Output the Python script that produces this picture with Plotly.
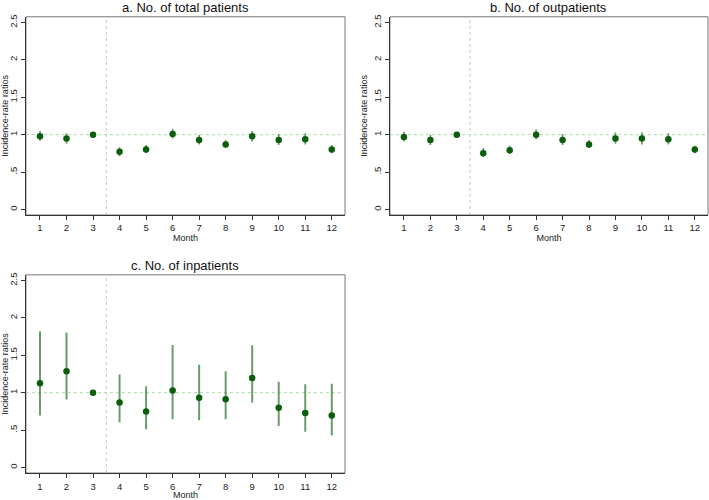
import plotly.graph_objects as go

months = [1, 2, 3, 4, 5, 6, 7, 8, 9, 10, 11, 12]
tick_labels_y = ["0", ".5", "1", "1.5", "2", "2.5"]
tick_vals_y = [0, 0.5, 1, 1.5, 2, 2.5]

titles = ["a. No. of total patients", "b. No. of outpatients", "c. No. of inpatients"]

irr_total = [0.98, 0.95, 1.00, 0.77, 0.80, 1.01, 0.93, 0.87, 0.98, 0.93, 0.94, 0.80]
lo_total = [0.92, 0.88, 1.00, 0.71, 0.75, 0.95, 0.87, 0.82, 0.91, 0.86, 0.87, 0.75]
hi_total = [1.05, 1.02, 1.00, 0.83, 0.86, 1.08, 1.00, 0.93, 1.05, 1.01, 1.02, 0.86]

irr_out = [0.97, 0.93, 1.00, 0.75, 0.79, 1.00, 0.93, 0.87, 0.95, 0.95, 0.94, 0.80]
lo_out = [0.91, 0.86, 1.00, 0.70, 0.74, 0.94, 0.86, 0.82, 0.88, 0.87, 0.87, 0.75]
hi_out = [1.04, 1.00, 1.00, 0.82, 0.85, 1.07, 1.01, 0.93, 1.03, 1.03, 1.02, 0.85]

irr_in = [1.125, 1.287, 1.00, 0.87, 0.747, 1.028, 0.931, 0.914, 1.195, 0.80, 0.729, 0.694]
lo_in = [0.694, 0.91, 1.00, 0.606, 0.51, 0.646, 0.633, 0.646, 0.87, 0.554, 0.479, 0.426]
hi_in = [1.82, 1.806, 1.00, 1.243, 1.085, 1.639, 1.375, 1.287, 1.634, 1.147, 1.112, 1.12]

series = [(irr_total, lo_total, hi_total), (irr_out, lo_out, hi_out), (irr_in, lo_in, hi_in)]

ref_x = 3.5
ref_y = 1.0

FONT = "Liberation Sans, Arial, sans-serif"
MARK = "#0b5e0b"
BAR = "rgba(40,115,40,0.7)"
REF = "#a8dba8"

domains = [
    ([24 / 709, 344 / 709], [1 - 216 / 500, 1 - 15 / 500]),
    ([389 / 709, 708 / 709], [1 - 216 / 500, 1 - 15 / 500]),
    ([24 / 709, 344 / 709], [1 - 477.7 / 500, 1 - 276.7 / 500]),
]

fig = go.Figure()
layout = dict(
    width=709, height=500, margin=dict(l=0, r=0, t=0, b=0),
    paper_bgcolor="white", plot_bgcolor="white", showlegend=False,
    font=dict(family=FONT, color="#222", size=9),
)
shapes = []
annotations = []
for i, (irr, lo, hi) in enumerate(series):
    n = "" if i == 0 else str(i + 1)
    xa, ya = "x" + n, "y" + n
    plus = [h - v for h, v in zip(hi, irr)]
    minus = [v - l for v, l in zip(irr, lo)]
    fig.add_trace(go.Scatter(
        x=months, y=irr, mode="markers", xaxis=xa, yaxis=ya,
        marker=dict(color=MARK, size=6.5),
        error_y=dict(type="data", array=plus, arrayminus=minus, color=BAR,
                     thickness=2 if i == 2 else 1.7, width=0),
    ))
    xd, yd = domains[i]
    layout["xaxis" + n] = dict(
        domain=xd, anchor=ya, range=[0.47, 12.5], tickvals=months,
        ticks="outside", ticklen=4, tickcolor="#333", showgrid=False, zeroline=False,
        showline=True, linecolor="#333", linewidth=1.2, mirror=False,
        tickfont=dict(size=9.5, family=FONT, color="#222"),
        title=dict(text="Month", font=dict(size=9, family=FONT, color="#222"), standoff=2),
    )
    layout["yaxis" + n] = dict(
        domain=yd, anchor=xa, range=[-0.074, 2.576], tickvals=tick_vals_y, ticktext=tick_labels_y,
        ticks="outside", ticklen=4, tickcolor="#333", showgrid=False, zeroline=False,
        showline=True, linecolor="#333", linewidth=1.2, mirror=False, tickangle=-90,
        tickfont=dict(size=9.5, family=FONT, color="#222"),
        title=dict(text="Incidence-rate ratios", font=dict(size=9, family=FONT, color="#222"), standoff=2),
    )
    shapes.append(dict(type="rect", xref=xa + " domain", yref=ya + " domain", x0=0, x1=1, y0=0, y1=1,
                       line=dict(color="#777", width=1), layer="below"))
    shapes.append(dict(type="line", xref=xa, yref=ya + " domain", x0=ref_x, x1=ref_x, y0=0, y1=1,
                       line=dict(color=REF, width=1, dash="dot"), layer="below"))
    shapes.append(dict(type="line", xref=xa + " domain", yref=ya, x0=0, x1=1, y0=ref_y, y1=ref_y,
                       line=dict(color=REF, width=1, dash="dot"), layer="below"))
    annotations.append(dict(text=titles[i], xref=xa + " domain", yref=ya + " domain", x=0.5, y=1.0,
                            yanchor="bottom", xanchor="center", showarrow=False, yshift=0,
                            font=dict(size=13, family=FONT, color="#111")))

layout["shapes"] = shapes
layout["annotations"] = annotations
fig.update_layout(**layout)
fig.write_html("out.html")
